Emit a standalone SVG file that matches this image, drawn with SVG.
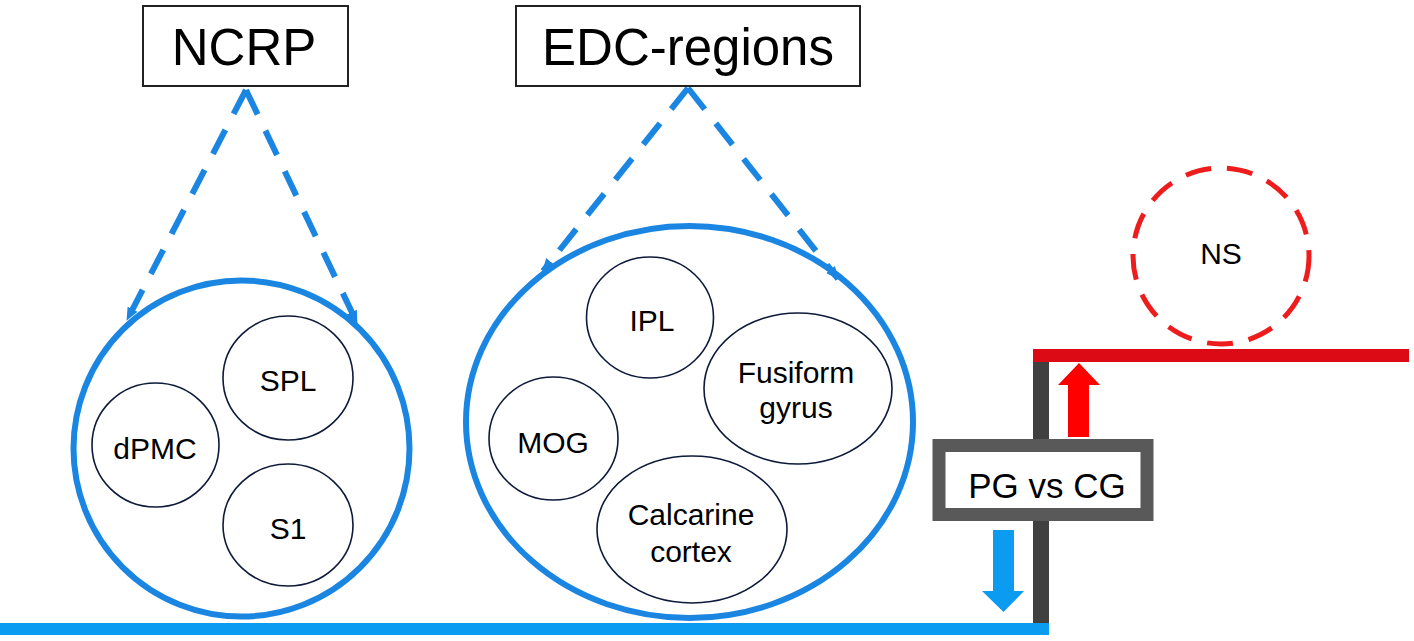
<svg xmlns="http://www.w3.org/2000/svg" width="1414" height="641" viewBox="0 0 1414 641">
<style>
text{font-family:"Liberation Sans",Arial,sans-serif;fill:#000;text-anchor:middle}
.title{font-size:51px}
.lbl{font-size:30px}
.box{fill:#fff;stroke:#222;stroke-width:2}
.big{fill:none;stroke:#1a86e2;stroke-width:6}
.small{fill:#fff;stroke:#0d1a3a;stroke-width:1.6}
.dash{fill:none;stroke:#1a86e2;stroke-width:6;stroke-dasharray:27 18}
</style>
<defs>
<marker id="ah" viewBox="0 0 14 14" refX="13" refY="7" markerWidth="13" markerHeight="13" markerUnits="userSpaceOnUse" orient="auto">
<path d="M0,1 L14,7 L0,13 z" fill="#1a86e2"/>
</marker>
</defs>
<rect width="1414" height="641" fill="#fff"/>
<g id="connectors">
<line class="dash" x1="246" y1="90" x2="127" y2="320" marker-end="url(#ah)"/>
<line class="dash" x1="246" y1="90" x2="357" y2="323" marker-end="url(#ah)"/>
<line class="dash" x1="688" y1="88" x2="543" y2="271" marker-end="url(#ah)"/>
<line class="dash" x1="688" y1="88" x2="838" y2="279" marker-end="url(#ah)"/>
<rect x="1033" y="355" width="16" height="274" fill="#404040"/>
<rect x="1033" y="349" width="376" height="13" fill="#dc0a14"/>
<rect x="0" y="623" width="1049" height="12" fill="#0b9cf2"/>
<polygon points="1068,437 1068,385 1058,385 1079,363 1100,385 1089,385 1089,437" fill="#ff0000"/>
<polygon points="993,530 1014,530 1014,591 1024,591 1003.5,612 982,591 993,591" fill="#0b9cf2"/>
</g>
<g id="ncrp-title">
<rect class="box" x="143" y="6" width="205" height="80"/>
<text class="title" x="244" y="65">NCRP</text>
</g>
<g id="edc-title">
<rect class="box" x="516" y="6" width="344" height="80"/>
<text class="title" x="688" y="65">EDC-regions</text>
</g>
<g id="ncrp">
<ellipse class="big" cx="241.5" cy="448.5" rx="168" ry="168"/>
</g>
<g id="spl"><ellipse class="small" cx="288" cy="378" rx="65" ry="62"/><text class="lbl" x="288" y="391">SPL</text></g>
<g id="dpmc"><ellipse class="small" cx="155.5" cy="445" rx="63.5" ry="62"/><text class="lbl" x="155" y="459">dPMC</text></g>
<g id="s1"><ellipse class="small" cx="288" cy="525" rx="65" ry="61"/><text class="lbl" x="288" y="539">S1</text></g>
<g id="edc">
<ellipse class="big" cx="689.5" cy="422" rx="223.5" ry="196"/>
</g>
<g id="ipl"><ellipse class="small" cx="650" cy="317.5" rx="63.5" ry="60.5"/><text class="lbl" x="652" y="331">IPL</text></g>
<g id="fusiform"><ellipse class="small" cx="798" cy="388.5" rx="94" ry="75.5"/><text class="lbl" x="796" y="383">Fusiform</text><text class="lbl" x="796" y="418">gyrus</text></g>
<g id="mog"><ellipse class="small" cx="553.5" cy="438.5" rx="64.5" ry="61.5"/><text class="lbl" x="553" y="453">MOG</text></g>
<g id="calcarine"><ellipse class="small" cx="692" cy="529.5" rx="95" ry="73.5"/><text class="lbl" x="691" y="525">Calcarine</text><text class="lbl" x="691" y="562">cortex</text></g>
<g id="ns">
<circle cx="1221" cy="256" r="88" fill="none" stroke="#ee1c1c" stroke-width="5" stroke-dasharray="26 16"/>
<text class="lbl" x="1221" y="264">NS</text>
</g>
<g id="pgcg">
<rect x="939" y="445.5" width="208" height="69" fill="#fff" stroke="#595959" stroke-width="13"/>
<text x="1047" y="498" style="font-size:35px">PG vs CG</text>
</g>
</svg>
